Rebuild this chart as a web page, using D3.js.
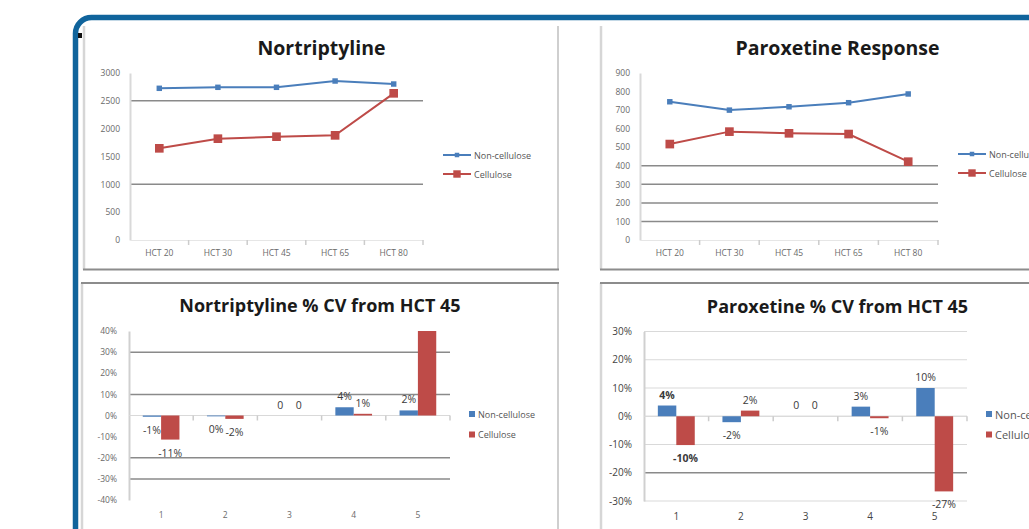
<!DOCTYPE html>
<html>
<head>
<meta charset="utf-8">
<script src="https://cdnjs.cloudflare.com/ajax/libs/d3/7.8.5/d3.min.js"></script>
<style>
  body { margin: 0; background: #fff; }
  svg { display: block; font-family: "Open Sans", sans-serif; }
</style>
</head>
<body>
<svg id="chart" width="1029" height="529"></svg>
<script>
// ---- data ----
var hctLabels = ["HCT 20", "HCT 30", "HCT 45", "HCT 65", "HCT 80"];
var runLabels = ["1", "2", "3", "4", "5"];
var seriesNames = ["Non-cellulose", "Cellulose"];

var nortNon = [2725, 2743, 2743, 2856, 2802];
var nortCel = [1647, 1820, 1856, 1880, 2635];
var paroNon = [745, 700, 718, 740, 787];
var paroCel = [517, 584, 575, 571, 422];

var nortCvNon = [-0.6, -0.4, 0, 3.9, 2.4];
var nortCvCel = [-11.4, -1.6, 0, 0.8, 41];
var paroCvNon = [3.8, -2.1, 0, 3.4, 10];
var paroCvCel = [-10.2, 2, 0, -0.7, -26.6];

var nortTicks = [0, 500, 1000, 1500, 2000, 2500, 3000];
var paroTicks = [0, 100, 200, 300, 400, 500, 600, 700, 800, 900];
var nortCvTicks = [-40, -30, -20, -10, 0, 10, 20, 30, 40];
var paroCvTicks = [-30, -20, -10, 0, 10, 20, 30];

var blue = "#4a7ebb", red = "#be4b48";

var svg = d3.select("#chart");

// outer frame
svg.append("rect")
  .attr("x", 75.5).attr("y", 17.5).attr("width", 1100).attr("height", 700)
  .attr("rx", 16).attr("fill", "none")
  .attr("stroke", "#10649c").attr("stroke-width", 5.5);
svg.append("rect").attr("x", 78).attr("y", 33).attr("width", 4).attr("height", 5).attr("fill", "#111");

// chart panels
function panel(x, y, w, h, darkTop) {
  var g = svg.append("g");
  g.append("line").attr("x1", x).attr("x2", x).attr("y1", y).attr("y2", y + h)
    .attr("stroke", "#d6d6d6").attr("stroke-width", 2.5);
  g.append("line").attr("x1", x + w).attr("x2", x + w).attr("y1", y).attr("y2", y + h)
    .attr("stroke", "#cfcfcf").attr("stroke-width", 2);
  var ly = darkTop ? y : y + h;
  g.append("line").attr("x1", x - 1).attr("x2", x + w + 1).attr("y1", ly).attr("y2", ly)
    .attr("stroke", "#8c8c8c").attr("stroke-width", 2);
}
panel(84, 26, 474, 243.5, false);
panel(601, 26, 500, 243.5, false);
panel(82, 283, 476, 300, true);
panel(601, 283, 500, 300, true);

function title(text, cx, cy, size) {
  svg.append("text").attr("x", cx).attr("y", cy)
    .attr("text-anchor", "middle").attr("dominant-baseline", "central")
    .attr("font-weight", "bold").attr("font-size", size).attr("fill", "#1a1a1a")
    .text(text);
}

function lineChart(cfg) {
  var g = svg.append("g");
  var x = d3.scaleBand().domain(cfg.cats).range([cfg.left, cfg.right]);
  var y = d3.scaleLinear().domain([0, cfg.max]).range([cfg.bottom, cfg.top]);

  g.selectAll(".grid").data(cfg.grid).enter().append("line")
    .attr("x1", cfg.left).attr("x2", cfg.right)
    .attr("y1", function(d) { return y(d); }).attr("y2", function(d) { return y(d); })
    .attr("stroke", "#8a8a8a").attr("stroke-width", 1.5);

  // y axis
  var ya = g.append("g").attr("transform", "translate(" + cfg.left + ",0)")
    .call(d3.axisLeft(y).tickValues(cfg.ticks).tickSize(0).tickPadding(10).tickFormat(d3.format("d")));
  ya.select(".domain").attr("stroke", "#d9d9d9").attr("stroke-width", 2);
  ya.selectAll("text").attr("font-size", 8.5).attr("fill", "#6a6a6a").attr("font-family", "Open Sans");

  // x axis
  var xa = g.append("g").attr("transform", "translate(0," + cfg.bottom + ")")
    .call(d3.axisBottom(x).tickSize(0).tickPadding(10));
  xa.select(".domain").attr("stroke", "#e6e6e6").attr("stroke-width", 1);
  xa.selectAll("text").attr("font-size", 8.5).attr("fill", "#6a6a6a").attr("font-family", "Open Sans");
  g.selectAll(".xt").data(cfg.cats.slice(1).concat([null])).enter().append("line")
    .attr("x1", function(d) { return d === null ? cfg.right : x(d); })
    .attr("x2", function(d) { return d === null ? cfg.right : x(d); })
    .attr("y1", cfg.bottom).attr("y2", cfg.bottom + 5)
    .attr("stroke", "#cccccc").attr("stroke-width", 1.5);

  var cx = function(d, i) { return x(cfg.cats[i]) + x.bandwidth() / 2; };
  var line = d3.line().x(cx).y(function(d) { return y(d); });

  [{ v: cfg.non, c: blue, m: "diamond" }, { v: cfg.cel, c: red, m: "square" }].forEach(function(s) {
    g.append("path").datum(s.v).attr("d", line)
      .attr("fill", "none").attr("stroke", s.c).attr("stroke-width", 2);
    var sym = s.m === "diamond" ? d3.symbol().type(d3.symbolDiamond2).size(38)
                                : d3.symbol().type(d3.symbolSquare).size(75);
    g.selectAll(null).data(s.v).enter().append("path")
      .attr("d", sym)
      .attr("transform", function(d, i) { return "translate(" + cx(d, i) + "," + y(d) + ")" + (s.m === "diamond" ? " rotate(45)" : ""); })
      .attr("fill", s.c);
  });

  // legend
  [{ c: blue, m: "diamond", yy: cfg.legY[0] }, { c: red, m: "square", yy: cfg.legY[1] }].forEach(function(s, i) {
    g.append("line").attr("x1", cfg.legX).attr("x2", cfg.legX + 28)
      .attr("y1", s.yy).attr("y2", s.yy).attr("stroke", s.c).attr("stroke-width", 2);
    var sym = s.m === "diamond" ? d3.symbol().type(d3.symbolDiamond2).size(26)
                                : d3.symbol().type(d3.symbolSquare).size(55);
    g.append("path").attr("d", sym)
      .attr("transform", "translate(" + (cfg.legX + 14) + "," + s.yy + ")" + (s.m === "diamond" ? " rotate(45)" : ""))
      .attr("fill", s.c);
    g.append("text").attr("x", cfg.legX + 31).attr("y", s.yy)
      .attr("dominant-baseline", "central").attr("font-size", 9).attr("fill", "#555")
      .text(seriesNames[i]);
  });
}

function barChart(cfg, id) {
  var g = svg.append("g");
  var x0 = d3.scaleBand().domain(cfg.cats).range([cfg.left, cfg.right]);
  var x1 = d3.scaleBand().domain(seriesNames).range([0, x0.bandwidth()]).paddingOuter(0.75);
  var y = d3.scaleLinear().domain([cfg.min, cfg.max]).range([cfg.bottom, cfg.top]);

  g.selectAll(".grid").data(cfg.ticks).enter().append("line")
    .attr("x1", cfg.left).attr("x2", cfg.right)
    .attr("y1", function(d) { return y(d); }).attr("y2", function(d) { return y(d); })
    .attr("stroke", function(d) { return cfg.darkGrid.indexOf(d) >= 0 ? "#8a8a8a" : cfg.lightGrid; })
    .attr("stroke-width", function(d) { return cfg.darkGrid.indexOf(d) >= 0 ? 1.5 : 1; });

  var ya = g.append("g").attr("transform", "translate(" + cfg.left + ",0)")
    .call(d3.axisLeft(y).tickValues(cfg.ticks).tickSize(0).tickPadding(12)
      .tickFormat(function(d) { return d + "%"; }));
  ya.select(".domain").attr("stroke", "#d0d0d0").attr("stroke-width", 2);
  ya.selectAll("text").attr("font-size", cfg.tickSize).attr("fill", cfg.tickColor).attr("font-family", "Open Sans");

  // zero line + category ticks
  g.append("line").attr("x1", cfg.left).attr("x2", cfg.right).attr("y1", y(0)).attr("y2", y(0))
    .attr("stroke", "#d9d9d9").attr("stroke-width", 1);
  g.selectAll(".xt").data(cfg.cats.slice(1).concat([null])).enter().append("line")
    .attr("x1", function(d) { return d === null ? cfg.right : x0(d); })
    .attr("x2", function(d) { return d === null ? cfg.right : x0(d); })
    .attr("y1", y(0)).attr("y2", y(0) + 5)
    .attr("stroke", "#cccccc").attr("stroke-width", 1.5);

  var xa = g.append("g").attr("transform", "translate(0," + cfg.bottom + ")")
    .call(d3.axisBottom(x0).tickSize(0).tickPadding(cfg.xPad));
  xa.select(".domain").remove();
  xa.selectAll("text").attr("font-size", cfg.tickSize).attr("fill", cfg.tickColor).attr("font-family", "Open Sans");

  svg.append("clipPath").attr("id", id).append("rect")
    .attr("x", cfg.left).attr("y", cfg.top).attr("width", cfg.right - cfg.left).attr("height", cfg.bottom - cfg.top);

  var items = [];
  cfg.cats.forEach(function(c, i) {
    items.push({ cat: c, s: 0, v: cfg.non[i], i: i });
    items.push({ cat: c, s: 1, v: cfg.cel[i], i: i });
  });
  var bx = function(d) { return x0(d.cat) + x1(seriesNames[d.s]); };

  g.append("g").attr("clip-path", "url(#" + id + ")")
    .selectAll("rect").data(items).enter().append("rect")
    .attr("x", bx)
    .attr("width", x1.bandwidth())
    .attr("y", function(d) { return y(Math.max(0, d.v)); })
    .attr("height", function(d) { return Math.abs(y(d.v) - y(0)); })
    .attr("fill", function(d) { return d.s === 0 ? blue : red; });

  g.selectAll(".lbl").data(items.filter(function(d) { return d.v <= cfg.max; })).enter().append("text")
    .attr("x", function(d) { return bx(d) + x1.bandwidth() / 2; })
    .attr("y", function(d) { return d.v >= 0 ? y(d.v) - 11 : y(d.v) + 13; })
    .attr("text-anchor", "middle").attr("dominant-baseline", "central")
    .attr("font-size", cfg.labelSize).attr("fill", "#3a3a3a")
    .attr("font-weight", function(d) { return d.i === cfg.boldCat ? "bold" : "normal"; })
    .text(function(d) { return d.v === 0 ? "0" : Math.round(d.v) + "%"; });

  [blue, red].forEach(function(c, i) {
    g.append("rect").attr("x", cfg.legX - 3).attr("y", cfg.legY[i] - 3).attr("width", 6).attr("height", 6).attr("fill", c);
    g.append("text").attr("x", cfg.legX + 6).attr("y", cfg.legY[i])
      .attr("dominant-baseline", "central").attr("font-size", cfg.legSize).attr("fill", "#555")
      .text(seriesNames[i]);
  });
}

lineChart({ cats: hctLabels, non: nortNon, cel: nortCel, max: 3000, ticks: nortTicks, grid: [2500, 1000],
  left: 130, right: 423, top: 73, bottom: 240, legX: 443, legY: [155, 174] });
lineChart({ cats: hctLabels, non: paroNon, cel: paroCel, max: 900, ticks: paroTicks, grid: [400, 300, 200, 100],
  left: 640, right: 938, top: 73, bottom: 240, legX: 958, legY: [154, 173] });

barChart({ cats: runLabels, non: nortCvNon, cel: nortCvCel, min: -40, max: 40, ticks: nortCvTicks,
  darkGrid: [30, 10, -20, -30], lightGrid: "none", tickSize: 8.5, tickColor: "#6a6a6a", xPad: 12,
  left: 129, right: 450, top: 331, bottom: 500, labelSize: 10.5, boldCat: -1,
  legX: 472, legY: [414, 434.5], legSize: 9 }, "clipA");
barChart({ cats: runLabels, non: paroCvNon, cel: paroCvCel, min: -30, max: 30, ticks: paroCvTicks,
  darkGrid: [-20], lightGrid: "#d9d9d9", tickSize: 10, tickColor: "#444", xPad: 12,
  left: 644, right: 967, top: 331.5, bottom: 501, labelSize: 10.5, boldCat: 0,
  legX: 989, legY: [414, 434.5], legSize: 11 }, "clipB");

title("Nortriptyline", 321.5, 47, 19.5);
title("Paroxetine Response", 837.5, 47, 19.5);
title("Nortriptyline % CV from HCT 45", 320, 305, 18);
title("Paroxetine % CV from HCT 45", 837.5, 306, 18);
</script>
</body>
</html>
